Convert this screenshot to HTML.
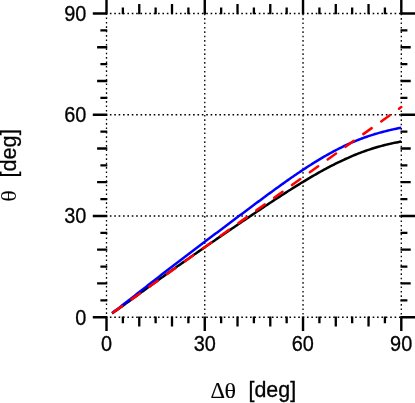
<!DOCTYPE html>
<html><head><meta charset="utf-8"><title>plot</title><style>html,body{margin:0;padding:0;background:#fff;overflow:hidden}body{width:415px;height:403px}</style></head><body>
<svg width="415" height="403" viewBox="0 0 415 403" style="display:block">
<rect width="415" height="403" fill="#fff"/>
<path d="M106.50 317.20H401.30M106.50 215.97H401.30M106.50 114.73H401.30M106.50 13.50H401.30" stroke="#000" stroke-width="1.35" stroke-dasharray="1.6 2.78" stroke-dashoffset="1.0" fill="none"/>
<path d="M106.50 13.50V317.20" stroke="#000" stroke-width="1.3" stroke-dasharray="1.6 2.8" stroke-dashoffset="0.4" fill="none"/>
<path d="M204.77 13.50V317.20" stroke="#000" stroke-width="1.3" stroke-dasharray="1.6 2.8" stroke-dashoffset="-0.2" fill="none"/>
<path d="M303.03 13.50V317.20" stroke="#000" stroke-width="1.3" stroke-dasharray="1.6 2.8" stroke-dashoffset="-0.2" fill="none"/>
<path d="M401.30 13.50V317.20" stroke="#000" stroke-width="1.3" stroke-dasharray="1.6 2.8" stroke-dashoffset="-0.2" fill="none"/>
<path d="M106.50 316.40V330.90M106.50 14.30V-0.20M107.30 317.20H92.80M400.50 317.20H415.00M204.77 316.40V330.90M204.77 14.30V-0.20M107.30 215.97H92.80M400.50 215.97H415.00M303.03 316.40V330.90M303.03 14.30V-0.20M107.30 114.73H92.80M400.50 114.73H415.00M401.30 316.40V330.90M401.30 14.30V-0.20M107.30 13.50H92.80M400.50 13.50H415.00" stroke="#000" stroke-width="2.4" stroke-linejoin="round" fill="none"/>
<path d="M139.26 316.40V326.60M139.26 14.30V4.10M107.30 283.46H97.10M400.50 283.46H410.70M172.01 316.40V326.60M172.01 14.30V4.10M107.30 249.71H97.10M400.50 249.71H410.70M237.52 316.40V326.60M237.52 14.30V4.10M107.30 182.22H97.10M400.50 182.22H410.70M270.28 316.40V326.60M270.28 14.30V4.10M107.30 148.48H97.10M400.50 148.48H410.70M335.79 316.40V326.60M335.79 14.30V4.10M107.30 80.99H97.10M400.50 80.99H410.70M368.54 316.40V326.60M368.54 14.30V4.10M107.30 47.24H97.10M400.50 47.24H410.70" stroke="#000" stroke-width="2.3" fill="none"/>
<path d="M122.88 316.40V323.30M122.88 14.30V7.40M107.30 300.33H100.40M400.50 300.33H407.40M155.63 316.40V323.30M155.63 14.30V7.40M107.30 266.58H100.40M400.50 266.58H407.40M188.39 316.40V323.30M188.39 14.30V7.40M107.30 232.84H100.40M400.50 232.84H407.40M221.14 316.40V323.30M221.14 14.30V7.40M107.30 199.09H100.40M400.50 199.09H407.40M253.90 316.40V323.30M253.90 14.30V7.40M107.30 165.35H100.40M400.50 165.35H407.40M286.66 316.40V323.30M286.66 14.30V7.40M107.30 131.61H100.40M400.50 131.61H407.40M319.41 316.40V323.30M319.41 14.30V7.40M107.30 97.86H100.40M400.50 97.86H407.40M352.17 316.40V323.30M352.17 14.30V7.40M107.30 64.12H100.40M400.50 64.12H407.40M384.92 316.40V323.30M384.92 14.30V7.40M107.30 30.37H100.40M400.50 30.37H407.40" stroke="#000" stroke-width="2.3" fill="none"/>
<path d="M112.07,313.36L113.71,312.21L115.36,311.06L117.00,309.90L118.64,308.73L120.29,307.56L121.93,306.38L123.57,305.20L125.22,304.02L126.86,302.83L128.50,301.65L130.15,300.46L131.79,299.26L133.43,298.07L135.08,296.88L136.72,295.68L138.36,294.49L140.01,293.29L141.65,292.10L143.29,290.90L144.94,289.71L146.58,288.51L148.22,287.32L149.87,286.13L151.51,284.93L153.15,283.74L154.80,282.56L156.44,281.37L158.08,280.18L159.73,279.00L161.37,277.82L163.01,276.64L164.66,275.46L166.30,274.28L167.94,273.11L169.59,271.93L171.23,270.76L172.87,269.59L174.52,268.42L176.16,267.26L177.80,266.10L179.45,264.93L181.09,263.77L182.73,262.62L184.38,261.46L186.02,260.30L187.66,259.15L189.31,258.00L190.95,256.85L192.59,255.70L194.24,254.56L195.88,253.41L197.52,252.27L199.17,251.13L200.81,249.99L202.45,248.85L204.10,247.71L205.74,246.57L207.38,245.44L209.03,244.30L210.67,243.17L212.31,242.04L213.96,240.91L215.60,239.78L217.24,238.65L218.89,237.52L220.53,236.39L222.17,235.27L223.82,234.14L225.46,233.02L227.10,231.89L228.75,230.77L230.39,229.65L232.03,228.53L233.68,227.41L235.32,226.29L236.96,225.17L238.61,224.05L240.25,222.93L241.89,221.82L243.54,220.70L245.18,219.59L246.82,218.47L248.47,217.36L250.11,216.25L251.75,215.14L253.40,214.04L255.04,212.93L256.68,211.82L258.33,210.72L259.97,209.62L261.61,208.52L263.26,207.42L264.90,206.33L266.54,205.23L268.19,204.14L269.83,203.05L271.47,201.97L273.12,200.89L274.76,199.80L276.40,198.73L278.05,197.65L279.69,196.58L281.33,195.52L282.98,194.45L284.62,193.39L286.26,192.34L287.91,191.29L289.55,190.24L291.19,189.20L292.84,188.16L294.48,187.13L296.12,186.11L297.77,185.09L299.41,184.07L301.05,183.06L302.70,182.06L304.34,181.06L305.99,180.08L307.63,179.09L309.27,178.12L310.92,177.15L312.56,176.19L314.20,175.24L315.85,174.30L317.49,173.36L319.13,172.44L320.78,171.52L322.42,170.61L324.06,169.72L325.71,168.83L327.35,167.95L328.99,167.08L330.64,166.22L332.28,165.38L333.92,164.54L335.57,163.71L337.21,162.90L338.85,162.10L340.50,161.31L342.14,160.53L343.78,159.76L345.43,159.01L347.07,158.27L348.71,157.54L350.36,156.83L352.00,156.13L353.64,155.44L355.29,154.76L356.93,154.10L358.57,153.45L360.22,152.82L361.86,152.20L363.50,151.60L365.15,151.00L366.79,150.43L368.43,149.87L370.08,149.32L371.72,148.78L373.36,148.26L375.01,147.76L376.65,147.27L378.29,146.79L379.94,146.33L381.58,145.88L383.22,145.45L384.87,145.03L386.51,144.62L388.15,144.23L389.80,143.85L391.44,143.49L393.08,143.14L394.73,142.80L396.37,142.47L398.01,142.16L399.66,141.85L401.30,141.56" stroke="#000" stroke-width="2.5" fill="none" stroke-linejoin="round"/>
<path d="M112.07,313.10L113.71,311.86L115.36,310.62L117.00,309.38L118.64,308.13L120.29,306.87L121.93,305.60L123.57,304.34L125.22,303.06L126.86,301.79L128.50,300.51L130.15,299.23L131.79,297.95L133.43,296.67L135.08,295.38L136.72,294.09L138.36,292.81L140.01,291.52L141.65,290.23L143.29,288.95L144.94,287.66L146.58,286.37L148.22,285.09L149.87,283.80L151.51,282.52L153.15,281.24L154.80,279.96L156.44,278.68L158.08,277.40L159.73,276.13L161.37,274.85L163.01,273.58L164.66,272.31L166.30,271.04L167.94,269.77L169.59,268.51L171.23,267.25L172.87,265.98L174.52,264.72L176.16,263.47L177.80,262.21L179.45,260.95L181.09,259.70L182.73,258.45L184.38,257.20L186.02,255.95L187.66,254.70L189.31,253.46L190.95,252.21L192.59,250.97L194.24,249.72L195.88,248.48L197.52,247.24L199.17,246.00L200.81,244.76L202.45,243.52L204.10,242.28L205.74,241.04L207.38,239.81L209.03,238.57L210.67,237.33L212.31,236.10L213.96,234.86L215.60,233.62L217.24,232.39L218.89,231.15L220.53,229.92L222.17,228.68L223.82,227.45L225.46,226.22L227.10,224.98L228.75,223.75L230.39,222.51L232.03,221.28L233.68,220.05L235.32,218.81L236.96,217.58L238.61,216.35L240.25,215.12L241.89,213.88L243.54,212.65L245.18,211.42L246.82,210.19L248.47,208.97L250.11,207.74L251.75,206.51L253.40,205.29L255.04,204.06L256.68,202.84L258.33,201.62L259.97,200.40L261.61,199.18L263.26,197.97L264.90,196.76L266.54,195.55L268.19,194.34L269.83,193.13L271.47,191.93L273.12,190.73L274.76,189.54L276.40,188.35L278.05,187.16L279.69,185.98L281.33,184.80L282.98,183.63L284.62,182.46L286.26,181.30L287.91,180.14L289.55,178.99L291.19,177.84L292.84,176.71L294.48,175.57L296.12,174.45L297.77,173.33L299.41,172.22L301.05,171.12L302.70,170.03L304.34,168.94L305.99,167.86L307.63,166.80L309.27,165.74L310.92,164.69L312.56,163.65L314.20,162.63L315.85,161.61L317.49,160.60L319.13,159.61L320.78,158.63L322.42,157.65L324.06,156.69L325.71,155.75L327.35,154.81L328.99,153.89L330.64,152.98L332.28,152.09L333.92,151.21L335.57,150.34L337.21,149.49L338.85,148.65L340.50,147.83L342.14,147.02L343.78,146.22L345.43,145.44L347.07,144.68L348.71,143.93L350.36,143.20L352.00,142.48L353.64,141.78L355.29,141.09L356.93,140.42L358.57,139.77L360.22,139.13L361.86,138.50L363.50,137.89L365.15,137.30L366.79,136.72L368.43,136.16L370.08,135.62L371.72,135.08L373.36,134.57L375.01,134.07L376.65,133.58L378.29,133.10L379.94,132.64L381.58,132.20L383.22,131.76L384.87,131.34L386.51,130.93L388.15,130.53L389.80,130.14L391.44,129.77L393.08,129.40L394.73,129.04L396.37,128.69L398.01,128.34L399.66,128.01L401.30,127.67" stroke="#0000ff" stroke-width="2.5" fill="none" stroke-linejoin="round"/>
<path d="M113.05 312.53L122.05 306.12M131.49 299.38L139.88 293.40M149.33 286.67L157.71 280.69M167.16 273.96L175.55 267.98M184.99 261.24L193.38 255.26M202.82 248.53L211.21 242.55M220.66 235.82L229.04 229.84M238.49 223.11L246.88 217.13M256.32 210.39L264.71 204.41M274.15 197.68L282.54 191.70M291.99 184.97L300.37 178.99M309.82 172.26L318.21 166.28M327.65 159.54L336.04 153.56M345.48 146.83L353.87 140.85M363.32 134.12L371.70 128.14M381.15 121.40L389.54 115.43M398.98 108.69L401.30 107.04" stroke="#ff0000" stroke-width="2.5" fill="none" stroke-linecap="round"/>
<g opacity="0.999">
<text transform="translate(75.210,324.732) scale(0.9950,1.1158)" style="font-family:'Liberation Sans',sans-serif;font-size:20px;fill:#000;stroke:#000;stroke-width:0.3px" >0</text>
<text transform="translate(100.916,351.382) scale(0.9950,1.1158)" style="font-family:'Liberation Sans',sans-serif;font-size:20px;fill:#000;stroke:#000;stroke-width:0.3px" >0</text>
<text transform="translate(64.142,223.499) scale(0.9950,1.1158)" style="font-family:'Liberation Sans',sans-serif;font-size:20px;fill:#000;stroke:#000;stroke-width:0.3px" >30</text>
<text transform="translate(193.659,351.382) scale(0.9950,1.1158)" style="font-family:'Liberation Sans',sans-serif;font-size:20px;fill:#000;stroke:#000;stroke-width:0.3px" >30</text>
<text transform="translate(64.142,122.265) scale(0.9950,1.1158)" style="font-family:'Liberation Sans',sans-serif;font-size:20px;fill:#000;stroke:#000;stroke-width:0.3px" >60</text>
<text transform="translate(291.799,351.382) scale(0.9950,1.1158)" style="font-family:'Liberation Sans',sans-serif;font-size:20px;fill:#000;stroke:#000;stroke-width:0.3px" >60</text>
<text transform="translate(64.142,21.032) scale(0.9950,1.1158)" style="font-family:'Liberation Sans',sans-serif;font-size:20px;fill:#000;stroke:#000;stroke-width:0.3px" >90</text>
<text transform="translate(390.105,351.382) scale(0.9950,1.1158)" style="font-family:'Liberation Sans',sans-serif;font-size:20px;fill:#000;stroke:#000;stroke-width:0.3px" >90</text>
<text transform="translate(210.541,397.600) scale(1.1280,1.1209)" style="font-family:'Liberation Serif',serif;font-size:20px;fill:#000;stroke:#000;stroke-width:0.12px" >Δ</text>
<text transform="translate(224.469,397.788) scale(1.2062,1.0861)" style="font-family:'Liberation Serif',serif;font-size:20px;fill:#000;stroke:#000;stroke-width:0.12px" >θ</text>
<text transform="translate(248.473,397.392) scale(1.0713,1.0621)" style="font-family:'Liberation Sans',sans-serif;font-size:20px;fill:#000;stroke:#000;stroke-width:0.3px" >[deg]</text>
<text transform="translate(15.792,201.731) rotate(-90) scale(1.2062,1.0649)" style="font-family:'Liberation Serif',serif;font-size:20px;fill:#000;stroke:#000;stroke-width:0.05px" >θ</text>
<text transform="translate(15.992,177.548) rotate(-90) scale(1.0857,1.1104)" style="font-family:'Liberation Sans',sans-serif;font-size:20px;fill:#000;stroke:#000;stroke-width:0.3px" >[deg]</text>
</g>
</svg>
</body></html>
